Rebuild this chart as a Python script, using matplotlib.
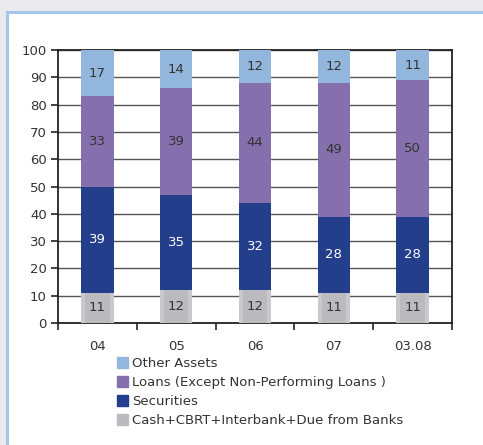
import matplotlib
matplotlib.use("Agg")
import matplotlib.pyplot as plt
import matplotlib.patches as mpatches
import numpy as np

categories = ["04", "05", "06", "07", "03.08"]
cash = [11, 12, 12, 11, 11]
securities = [39, 35, 32, 28, 28]
loans = [33, 39, 44, 49, 50]
other = [17, 14, 12, 12, 11]
series_names = ["Other Assets", "Loans (Except Non-Performing Loans )", "Securities",
                "Cash+CBRT+Interbank+Due from Banks"]
yticks = list(range(0, 101, 10))

plt.rcParams['font.family'] = ['DejaVu Sans']
W, H = 483, 445
fig = plt.figure(figsize=(W / 100, H / 100), dpi=100)
fig.patch.set_facecolor("#ebebee")
# panel frame
fig.patches.append(mpatches.Rectangle((6.5 / W, -0.2), 1.2, 1.2 - 11.5 / H, transform=fig.transFigure,
                                      facecolor="white", edgecolor="#a4c6ea", linewidth=2.2, zorder=-10))

ax = fig.add_axes([58 / W, 1 - 323 / H, (452 - 58) / W, (323 - 50) / H])
x = np.arange(len(categories))
bw = 0.41
c_other, c_loans, c_sec, c_cash, c_cash_edge = "#93b6dc", "#856fac", "#233f8b", "#bbbbbf", "#c9c9cc"
txt = "#333333"

ax.bar(x, cash, bw, color=c_cash_edge, zorder=3)
ax.bar(x, cash, bw * 0.76, color=c_cash, zorder=3)
b1 = np.array(cash)
ax.bar(x, securities, bw, bottom=b1, color=c_sec, zorder=3)
b2 = b1 + np.array(securities)
ax.bar(x, loans, bw, bottom=b2, color=c_loans, zorder=3)
b3 = b2 + np.array(loans)
ax.bar(x, other, bw, bottom=b3, color=c_other, zorder=3)

fs = 9.5
for i in range(len(categories)):
    ax.text(x[i], cash[i] / 2, str(cash[i]), ha="center", va="center", color=txt, fontsize=fs, zorder=4)
    ax.text(x[i], b1[i] + securities[i] / 2, str(securities[i]), ha="center", va="center", color="white", fontsize=fs, zorder=4)
    ax.text(x[i], b2[i] + loans[i] / 2, str(loans[i]), ha="center", va="center", color=txt, fontsize=fs, zorder=4)
    ax.text(x[i], b3[i] + other[i] / 2, str(other[i]), ha="center", va="center", color=txt, fontsize=fs, zorder=4)

ax.set_xlim(-0.5, len(categories) - 0.5)
ax.set_ylim(0, 100)
ax.set_yticks(yticks)
ax.set_xticks(x)
ax.set_xticklabels(categories)
ax.set_xticks(np.arange(-0.5, len(categories)), minor=True)
ax.tick_params(axis="x", which="major", length=0, pad=12, labelsize=fs, labelcolor=txt)
ax.tick_params(axis="x", which="minor", length=5, width=1.2, direction="out", color="#222222")
ax.tick_params(axis="y", length=5, width=1.2, direction="out", labelsize=fs, labelcolor=txt, color="#222222", pad=3)
ax.yaxis.grid(True, color="#555555", linewidth=1.0, zorder=0)
ax.set_axisbelow(True)
for s in ax.spines.values():
    s.set_color("#222222")
    s.set_linewidth(1.3)
ax.set_facecolor("white")

handles = [mpatches.Patch(color=c) for c in (c_other, c_loans, c_sec, c_cash)]
fig.legend(handles, series_names, loc="upper left", bbox_to_anchor=(117 / W, 1 - 357 / H),
           frameon=False, fontsize=fs, handlelength=0.85, handleheight=0.85, handletextpad=0.3,
           labelspacing=0.45, borderpad=0, borderaxespad=0, labelcolor=txt)

fig.savefig("out.png", dpi=100)
